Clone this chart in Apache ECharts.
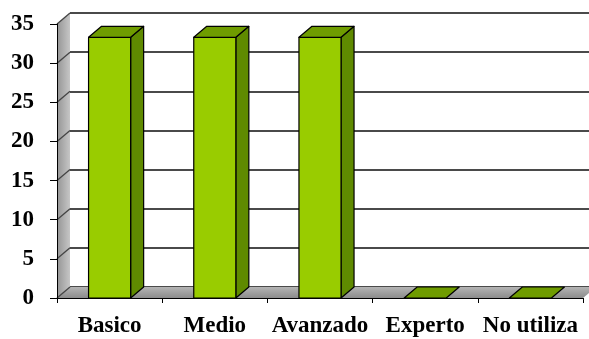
<!DOCTYPE html>
<html>
<head>
<meta charset="utf-8">
<script src="https://cdn.jsdelivr.net/npm/echarts@6/dist/echarts.min.js"></script>
<style>html,body{margin:0;padding:0;background:#fff;}#c{width:589px;height:339px;}</style>
</head>
<body>
<div id="c"></div>
<script>
var categories = ['Basico', 'Medio', 'Avanzado', 'Experto', 'No utiliza'];
var values = [33.3, 33.3, 33.3, 0, 0];
var yTicks = [0, 5, 10, 15, 20, 25, 30, 35];

var DX = 13, DY = -11;
var FONT = 'Liberation Serif';

var chart = echarts.init(document.getElementById('c'));

function wallItem(params, api) {
  var cs = params.coordSys;
  var left = cs.x, right = cs.x + cs.width, top = cs.y, bottom = cs.y + cs.height;
  var children = [];
  children.push({type: 'polygon', shape: {points: [[left, top], [left + DX, top + DY], [left + DX, bottom + DY], [left, bottom]]},
    style: {fill: {type: 'linear', x: 0, y: 0, x2: 1, y2: 0, colorStops: [{offset: 0, color: '#959595'}, {offset: 1, color: '#c6c6c6'}]}, stroke: null}});
  children.push({type: 'polygon', shape: {points: [[left, bottom], [left + DX, bottom + DY], [right + DX, bottom + DY], [right, bottom]]},
    style: {fill: {type: 'linear', x: 0, y: 0, x2: 0, y2: 1, colorStops: [{offset: 0, color: '#b4b4b4'}, {offset: 1, color: '#8c8c8c'}]}, stroke: null}});
  yTicks.forEach(function (t) {
    var p = api.coord([0, t]);
    children.push({type: 'line', shape: {x1: left, y1: p[1], x2: left + DX, y2: p[1] + DY}, style: {stroke: '#444', lineWidth: 1.3}});
  });
  return {type: 'group', children: children};
}

function barItem(params, api) {
  var i = api.value(0), v = api.value(1);
  var top = api.coord([i, v]);
  var base = api.coord([i, 0]);
  var w = api.size([1, 0])[0] * 0.4;
  var xl = top[0] - w / 2, xr = top[0] + w / 2, yt = top[1], yb = base[1];
  var st = {stroke: '#000', lineWidth: 1.2, lineJoin: 'round'};
  var children = [];
  if (yb - yt > 0.5) {
    children.push({type: 'polygon', shape: {points: [[xr, yt], [xr + DX, yt + DY], [xr + DX, yb + DY], [xr, yb]]},
      style: Object.assign({fill: '#5f8a00'}, st)});
    children.push({type: 'rect', shape: {x: xl, y: yt, width: w, height: yb - yt},
      style: Object.assign({fill: '#99cc00'}, st)});
  }
  children.push({type: 'polygon', shape: {points: [[xl, yt], [xl + DX, yt + DY], [xr + DX, yt + DY], [xr, yt]]},
    style: Object.assign({fill: '#6f9c00'}, st)});
  return {type: 'group', children: children};
}

var option = {
  animation: false,
  backgroundColor: '#fff',
  grid: [
    {left: 57, right: 6, top: 24, bottom: 41},
    {left: 70, right: -7, top: 13, bottom: 52}
  ],
  xAxis: [
    {type: 'category', gridIndex: 0, data: categories,
      axisLine: {show: true, lineStyle: {color: '#000', width: 1}},
      axisTick: {show: true, length: 5, lineStyle: {color: '#000'}},
      axisLabel: {color: '#000', fontFamily: FONT, fontWeight: 'bold', fontSize: 23, margin: 17, interval: 0},
      z: 5},
    {type: 'category', gridIndex: 1, data: categories, show: false}
  ],
  yAxis: [
    {type: 'value', gridIndex: 0, min: 0, max: 35, interval: 5,
      axisLine: {show: true, lineStyle: {color: '#000', width: 1}},
      axisTick: {show: true, length: 7, lineStyle: {color: '#000'}},
      axisLabel: {color: '#000', fontFamily: FONT, fontWeight: 'bold', fontSize: 23, margin: 23},
      splitLine: {show: false}, z: 5},
    {type: 'value', gridIndex: 1, min: 0, max: 35, interval: 5,
      axisLine: {show: false}, axisTick: {show: false}, axisLabel: {show: false},
      splitLine: {show: true, lineStyle: {color: '#4a4a4a', width: 2}}}
  ],
  series: [
    {type: 'custom', xAxisIndex: 0, yAxisIndex: 0, data: [[0, 0]], renderItem: wallItem, z: 1, silent: true},
    {type: 'custom', xAxisIndex: 0, yAxisIndex: 0,
      data: categories.map(function (c, i) { return [i, values[i]]; }),
      renderItem: barItem, z: 3}
  ]
};
chart.setOption(option);
</script>
</body>
</html>
